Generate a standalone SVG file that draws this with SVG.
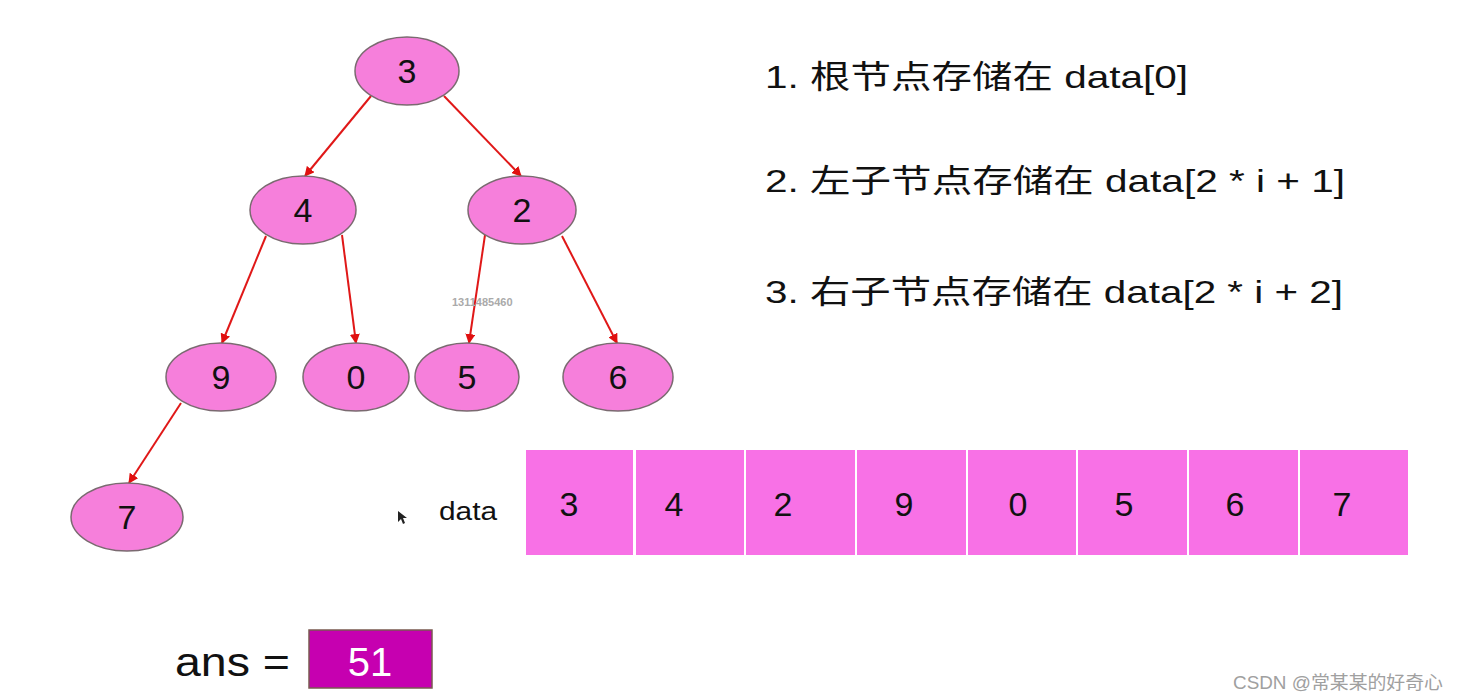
<svg xmlns="http://www.w3.org/2000/svg" width="1459" height="700" viewBox="0 0 1459 700">
<defs>
<marker id="ah" viewBox="0 0 10 10" refX="9" refY="5" markerWidth="10" markerHeight="10" markerUnits="userSpaceOnUse" orient="auto">
<path d="M0,0 L10,5 L0,10 z" fill="#e01010"/>
</marker>
<style>
.node ellipse{fill:#f67fdb;stroke:#7a6a70;stroke-width:1.5}
.t{font-family:"Liberation Sans",Arial,sans-serif;fill:#111}
.nt{font-size:34px;text-anchor:middle}
.edge{stroke:#e01818;stroke-width:2;fill:none;marker-end:url(#ah)}
.cell{fill:#f871e6}
.cj{font-family:"Liberation Sans","Noto Sans CJK SC",sans-serif;font-size:32px;fill:#111}
</style>
</defs>
<rect width="1459" height="700" fill="#ffffff"/>
<g id="connectors">
<line class="edge" x1="371" y1="96" x2="305" y2="176"/>
<line class="edge" x1="444" y1="96" x2="521" y2="176"/>
<line class="edge" x1="266" y1="236" x2="222" y2="343"/>
<line class="edge" x1="342" y1="235" x2="356" y2="343"/>
<line class="edge" x1="485" y1="235" x2="469" y2="343"/>
<line class="edge" x1="562" y1="236" x2="617" y2="343"/>
<line class="edge" x1="181" y1="403" x2="129" y2="483"/>
</g>
<g id="n3" class="node"><ellipse cx="407" cy="71" rx="52" ry="34"/><text class="t nt" x="407" y="83">3</text></g>
<g id="n4" class="node"><ellipse cx="303" cy="210" rx="53" ry="34"/><text class="t nt" x="303" y="222">4</text></g>
<g id="n2" class="node"><ellipse cx="522" cy="210" rx="54" ry="34"/><text class="t nt" x="522" y="222">2</text></g>
<g id="n9" class="node"><ellipse cx="221" cy="377" rx="55" ry="34"/><text class="t nt" x="221" y="389">9</text></g>
<g id="n0" class="node"><ellipse cx="356" cy="377" rx="53" ry="34"/><text class="t nt" x="356" y="389">0</text></g>
<g id="n5" class="node"><ellipse cx="467" cy="377" rx="52" ry="34"/><text class="t nt" x="467" y="389">5</text></g>
<g id="n6" class="node"><ellipse cx="618" cy="377" rx="55" ry="34"/><text class="t nt" x="618" y="389">6</text></g>
<g id="n7" class="node"><ellipse cx="127" cy="517" rx="56" ry="34"/><text class="t nt" x="127" y="529">7</text></g>
<text x="452" y="306" font-family="Liberation Sans,Arial,sans-serif" font-size="11" font-weight="bold" fill="#aaaaaa">1311485460</text>
<g id="rules">
<text class="cj" x="765" y="88" textLength="423" lengthAdjust="spacingAndGlyphs">1. 根节点存储在 data[0]</text>
<text class="cj" x="765" y="192" textLength="580" lengthAdjust="spacingAndGlyphs">2. 左子节点存储在 data[2 * i + 1]</text>
<text class="cj" x="765" y="303" textLength="578" lengthAdjust="spacingAndGlyphs">3. 右子节点存储在 data[2 * i + 2]</text>
</g>
<g id="array">
<text class="t" x="439" y="520" font-size="26" textLength="58" lengthAdjust="spacingAndGlyphs">data</text>
<rect class="cell" x="526" y="450" width="107" height="105"/>
<rect class="cell" x="636" y="450" width="108" height="105"/>
<rect class="cell" x="746" y="450" width="109" height="105"/>
<rect class="cell" x="857" y="450" width="109" height="105"/>
<rect class="cell" x="968" y="450" width="108" height="105"/>
<rect class="cell" x="1078" y="450" width="109" height="105"/>
<rect class="cell" x="1189" y="450" width="109" height="105"/>
<rect class="cell" x="1300" y="450" width="108" height="105"/>
<text class="t nt" x="569" y="516">3</text>
<text class="t nt" x="674" y="516">4</text>
<text class="t nt" x="783" y="516">2</text>
<text class="t nt" x="904" y="516">9</text>
<text class="t nt" x="1018" y="516">0</text>
<text class="t nt" x="1124" y="516">5</text>
<text class="t nt" x="1235" y="516">6</text>
<text class="t nt" x="1342" y="516">7</text>
</g>
<polygon points="398,511 398,522 401,519 403,524 405,523 403,518 407,518" fill="#222"/>
<g id="ans">
<text class="t" x="175" y="676" font-size="40" textLength="115" lengthAdjust="spacingAndGlyphs">ans =</text>
<rect x="309" y="630" width="123" height="58" fill="#c600b0" stroke="#7a5a50" stroke-width="1.5"/>
<text x="370" y="676" font-family="Liberation Sans,Arial,sans-serif" font-size="40" fill="#ffffff" text-anchor="middle">51</text>
</g>
<text x="1233" y="689" font-family="Liberation Sans,'Noto Sans CJK SC',sans-serif" font-size="18" fill="#a0a0a0" textLength="210" lengthAdjust="spacingAndGlyphs">CSDN @常某某的好奇心</text>
</svg>
